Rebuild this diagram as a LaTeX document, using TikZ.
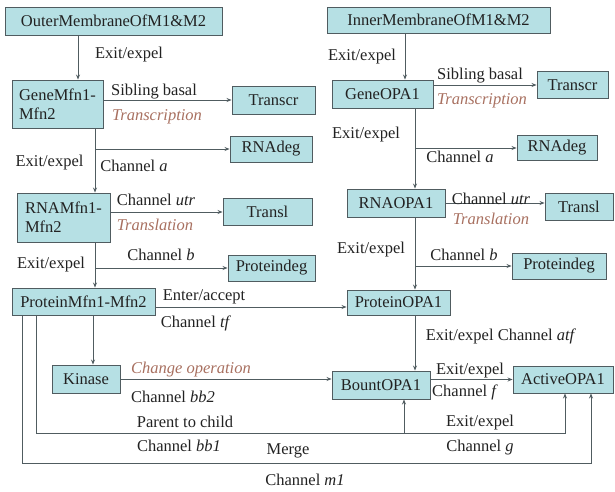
\documentclass[tikz,border=0pt]{standalone}
\usepackage{fontspec}
\setmainfont{Liberation Serif}
\newfontfamily\timesfam{Liberation Serif}
\definecolor{boxfill}{RGB}{182,224,228}
\definecolor{boxline}{RGB}{80,92,96}
\definecolor{txt}{RGB}{34,34,34}
\definecolor{brownish}{RGB}{168,112,96}
\usetikzlibrary{arrows.meta}
\tikzset{
  box/.style = {draw = boxline, fill = boxfill, text = txt, line width = 0.9pt,
                inner sep = 2pt, font = \timesfam\fontsize{16.5}{19}\selectfont},
  lbl/.style = {text = txt, inner sep = 0pt, font = \timesfam\fontsize{16.5}{19}\selectfont},
  trans/.style = {lbl, text = brownish, font = \timesfam\fontsize{16.5}{19}\selectfont\itshape},
  arr/.style = {draw = boxline, line width = 0.8pt, -{Stealth[length = 5pt, width = 4pt]}}
}
\begin{document}
\begin{tikzpicture}[x = 1pt, y = -1pt]
            \useasboundingbox (0, 0) rectangle (615, 491);

            % left column: Mfn1-Mfn2
            \node [box, minimum width = 217, minimum height = 28] (outer) at (113.5, 21)
                  {OuterMembraneOfM1\&M2};
            \node [box, minimum width = 91, minimum height = 48, align = left] (geneM) at (57.5, 104)
                  {GeneMfn1-\\Mfn2};
            \node [box, minimum width = 83, minimum height = 28] (transcrM) at (273.5, 100) {Transcr};
            \node [box, minimum width = 82, minimum height = 26] (rnadegM) at (271, 149) {RNAdeg};
            \node [box, minimum width = 93, minimum height = 49, align = left] (rnaM) at (63.5, 217.5)
                  {RNAMfn1-\\Mfn2};
            \node [box, minimum width = 89, minimum height = 27] (translM) at (267.5, 212) {Transl};
            \node [box, minimum width = 87, minimum height = 26] (proteindegM) at (271.5, 268) {Proteindeg};
            \node [box, minimum width = 143, minimum height = 27] (proteinM) at (83.5, 301.5)
                  {ProteinMfn1-Mfn2};
            \node [box, minimum width = 68, minimum height = 28] (kinase) at (86, 379) {Kinase};

            % right column: OPA1
            \node [box, minimum width = 223, minimum height = 26] (inner) at (438.5, 20)
                  {InnerMembraneOfM1\&M2};
            \node [box, minimum width = 101, minimum height = 28] (geneO) at (382.5, 94) {GeneOPA1};
            \node [box, minimum width = 71, minimum height = 27] (transcrO) at (572.5, 85) {Transcr};
            \node [box, minimum width = 80, minimum height = 25] (rnadegO) at (557, 148) {RNAdeg};
            \node [box, minimum width = 98, minimum height = 28] (rnaO) at (396, 203) {RNAOPA1};
            \node [box, minimum width = 68, minimum height = 27] (translO) at (579, 207) {Transl};
            \node [box, minimum width = 94, minimum height = 26] (proteindegO) at (559, 266) {Proteindeg};
            \node [box, minimum width = 103, minimum height = 25] (proteinO) at (398.5, 302.5) {ProteinOPA1};
            \node [box, minimum width = 98, minimum height = 28] (bount) at (381, 385) {BountOPA1};
            \node [box, minimum width = 100, minimum height = 27] (active) at (563, 379.5) {ActiveOPA1};

            % connectors, left
            \draw [arr] (78, 0 |- outer.south) -- (78, 0 |- geneM.north);
            \draw [arr] (geneM.east |- transcrM.west) -- (transcrM.west);
            \draw [arr] (95, 0 |- geneM.south) -- (95, 0 |- rnaM.north);
            \draw [arr] (95, 0 |- rnadegM.west) -- (rnadegM.west);
            \draw [arr] (rnaM.east |- translM.west) -- (translM.west);
            \draw [arr] (95, 0 |- rnaM.south) -- (95, 0 |- proteinM.north);
            \draw [arr] (95, 0 |- proteindegM.west) -- (proteindegM.west);
            \draw [arr] (proteinM.east |- 0, 307) -- (proteinO.west |- 0, 307); % Enter/accept
            \draw [arr] (93, 0 |- proteinM.south) -- (93, 0 |- kinase.north);
            \draw [arr] (kinase.east) -- (kinase.east -| bount.west);

            % connectors, right
            \draw [arr] (405, 0 |- inner.south) -- (405, 0 |- geneO.north);
            \draw [arr] (geneO.east |- transcrO.west) -- (transcrO.west);
            \draw [arr] (415, 0 |- geneO.south) -- (415, 0 |- rnaO.north);
            \draw [arr] (415, 0 |- rnadegO.west) -- (rnadegO.west);
            \draw [arr] (rnaO.east) -- (rnaO.east -| translO.west);
            \draw [arr] (415, 0 |- rnaO.south) -- (415, 0 |- proteinO.north);
            \draw [arr] (415, 0 |- proteindegO.west) -- (proteindegO.west);
            \draw [arr] (415, 0 |- proteinO.south) -- (415, 0 |- bount.north);
            \draw [arr] (bount.east |- active.west) -- (active.west);

            % bottom loops
            \draw [arr] (36, 0 |- proteinM.south) |- (565, 433) -- (565, 0 |- active.south); % bb1
            \draw [arr] (404, 433) -- (404, 0 |- bount.south);
            \draw [arr] (22, 0 |- proteinM.south) |- (591, 463) -- (591, 0 |- active.south); % m1

            % labels, left
            \node [lbl] (l1) at (129, 55) {Exit/expel};
            \node [lbl] (l2) at (154, 92) {Sibling basal};
            \node [trans] (l3) at (157, 117) {Transcription};
            \node [lbl] (l4) at (49.5, 163) {Exit/expel};
            \node [lbl] (l5) at (134, 166) {Channel \textit{a}};
            \node [lbl] (l6) at (156, 200) {Channel \textit{utr}};
            \node [trans] (l7) at (155, 225) {Translation};
            \node [lbl] (l8) at (51, 265) {Exit/expel};
            \node [lbl] (l9) at (161, 255) {Channel \textit{b}};
            \node [lbl] (l10) at (204, 297) {Enter/accept};
            \node [lbl] (l11) at (196, 323) {Channel \textit{tf}};
            \node [trans] (l12) at (191, 370) {Change operation};
            \node [lbl] (l13) at (173, 397) {Channel \textit{bb2}};
            \node [lbl] (l14) at (185, 422) {Parent to child};
            \node [lbl] (l15) at (179, 446) {Channel \textit{bb1}};
            \node [lbl] (l16) at (288, 451) {Merge};
            \node [lbl] (l17) at (305, 480) {Channel \textit{m1}};

            % labels, right
            \node [lbl] (r1) at (362, 57) {Exit/expel};
            \node [lbl] (r2) at (480, 76) {Sibling basal};
            \node [trans] (r3) at (482, 101) {Transcription};
            \node [lbl] (r4) at (366, 135) {Exit/expel};
            \node [lbl] (r5) at (460, 157) {Channel \textit{a}};
            \node [lbl] (r6) at (491, 199) {Channel \textit{utr}};
            \node [trans] (r7) at (491, 219) {Translation};
            \node [lbl] (r8) at (371, 250) {Exit/expel};
            \node [lbl] (r9) at (464, 255) {Channel \textit{b}};
            \node [lbl] (r10) at (501, 336) {Exit/expel Channel \textit{atf}};
            \node [lbl] (r11) at (470, 371) {Exit/expel};
            \node [lbl] (r12) at (465, 392) {Channel \textit{f}};
            \node [lbl] (r13) at (480, 423) {Exit/expel};
            \node [lbl] (r14) at (480, 448) {Channel \textit{g}};
        \end{tikzpicture}
\end{document}
